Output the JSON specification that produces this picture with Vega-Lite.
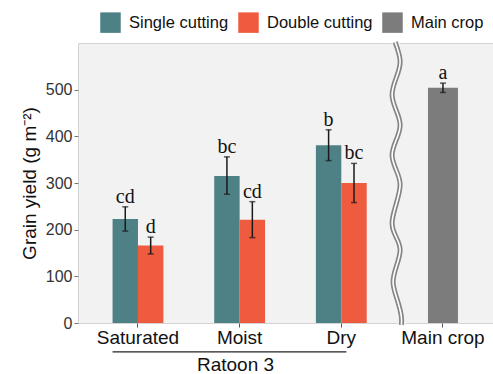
{
  "$schema": "https://vega.github.io/schema/vega-lite/v6.json",
  "width": 415,
  "height": 280,
  "autosize": "none",
  "padding": {"left": 78, "top": 43, "right": 0, "bottom": 51},
  "background": "white",
  "config": {
    "font": "Liberation Sans",
    "view": {"fill": "#f2f2f2", "stroke": "#d3d3d3", "strokeWidth": 1}
  },
  "datasets": {
    "bars": [
      {"cond": "Saturated", "type": "Single cutting", "mean": 223, "lo": 197, "hi": 249, "letter": "cd"},
      {"cond": "Saturated", "type": "Double cutting", "mean": 166, "lo": 148, "hi": 184, "letter": "d"},
      {"cond": "Moist", "type": "Single cutting", "mean": 315, "lo": 276, "hi": 356, "letter": "bc"},
      {"cond": "Moist", "type": "Double cutting", "mean": 221, "lo": 183, "hi": 260, "letter": "cd"},
      {"cond": "Dry", "type": "Single cutting", "mean": 381, "lo": 348, "hi": 414, "letter": "b"},
      {"cond": "Dry", "type": "Double cutting", "mean": 300, "lo": 258, "hi": 342, "letter": "bc"},
      {"cond": "Main crop", "type": "Main crop", "mean": 504, "lo": 494, "hi": 514, "letter": "a"}
    ],
    "wave": [
      {"i": 0, "wx": 3.528, "wy": 602},
      {"i": 1, "wx": 3.577, "wy": 561},
      {"i": 2, "wx": 3.538, "wy": 525},
      {"i": 3, "wx": 3.498, "wy": 489},
      {"i": 4, "wx": 3.538, "wy": 456},
      {"i": 5, "wx": 3.577, "wy": 424},
      {"i": 6, "wx": 3.538, "wy": 392},
      {"i": 7, "wx": 3.498, "wy": 360},
      {"i": 8, "wx": 3.538, "wy": 328},
      {"i": 9, "wx": 3.577, "wy": 296},
      {"i": 10, "wx": 3.538, "wy": 255},
      {"i": 11, "wx": 3.498, "wy": 214},
      {"i": 12, "wx": 3.538, "wy": 184},
      {"i": 13, "wx": 3.577, "wy": 156},
      {"i": 14, "wx": 3.538, "wy": 120},
      {"i": 15, "wx": 3.508, "wy": 86},
      {"i": 16, "wx": 3.547, "wy": 51},
      {"i": 17, "wx": 3.587, "wy": 17},
      {"i": 18, "wx": 3.590, "wy": -4}
    ],
    "group": [
      {"cond": "Saturated", "cond2": "Dry"}
    ]
  },
  "layer": [
    {
      "encoding": {
        "x": {
          "field": "cond",
          "type": "nominal",
          "sort": null,
          "scale": {
            "domain": ["Saturated", "Moist", "Dry", "Main crop"],
            "paddingInner": 0.5,
            "paddingOuter": 0.291,
            "align": 0.584
          },
          "axis": {
            "title": "Ratoon 3",
            "labelAngle": 0,
            "labelFontSize": 19,
            "labelColor": "#111111",
            "labelPadding": 1,
            "tickColor": "#555555",
            "tickSize": 4,
            "domain": false,
            "grid": false,
            "titleFontSize": 19,
            "titleFontWeight": "normal",
            "titleColor": "#111111",
            "titleX": 157,
            "titleY": 47,
            "titleAlign": "center",
            "titleBaseline": "alphabetic"
          }
        }
      },
      "layer": [
        {
          "data": {"name": "bars"},
          "transform": [{"filter": "datum.type !== 'Main crop'"}],
          "mark": {"type": "bar"},
          "encoding": {
            "xOffset": {"field": "type", "type": "nominal", "scale": {"domain": ["Single cutting", "Double cutting"], "paddingInner": 0, "paddingOuter": 0}},
            "y": {
              "field": "mean",
              "type": "quantitative",
              "scale": {"domain": [0, 600], "nice": false},
              "axis": {
                "title": "Grain yield (g m⁻²)",
                "values": [0, 100, 200, 300, 400, 500],
                "labelFontSize": 16,
                "labelColor": "#333333",
                "labelPadding": 2,
                "tickColor": "#777777",
                "tickSize": 4,
                "domain": false,
                "grid": false,
                "titleFontSize": 19,
                "titleFontWeight": "normal",
                "titleColor": "#111111",
                "titlePadding": 6
              }
            },
            "color": {
              "field": "type",
              "type": "nominal",
              "scale": {"domain": ["Single cutting", "Double cutting", "Main crop"], "range": ["#4E8185", "#EE5B3F", "#7C7C7C"]},
              "legend": {
                "title": null,
                "orient": "none",
                "legendX": 22,
                "legendY": -31,
                "direction": "horizontal",
                "symbolType": "square",
                "symbolSize": 420,
                "symbolStrokeWidth": 0,
                "labelFontSize": 16.5,
                "labelColor": "#111111",
                "labelOffset": 8,
                "columnPadding": 9,
                "labelFont": "Liberation Sans"
              }
            }
          }
        },
        {
          "data": {"name": "bars"},
          "transform": [{"filter": "datum.type === 'Main crop'"}],
          "mark": {"type": "bar", "width": {"band": 0.59}},
          "encoding": {
            "y": {"field": "mean", "type": "quantitative"},
            "color": {"field": "type", "type": "nominal"}
          }
        },
        {
          "data": {"name": "bars"},
          "transform": [{"filter": "datum.type !== 'Main crop'"}],
          "mark": {"type": "rule", "strokeWidth": 1.5, "color": "#1a1a1a"},
          "encoding": {
            "xOffset": {"field": "type", "type": "nominal"},
            "y": {"field": "lo", "type": "quantitative"},
            "y2": {"field": "hi"}
          }
        },
        {
          "data": {"name": "bars"},
          "transform": [{"filter": "datum.type === 'Main crop'"}],
          "mark": {"type": "rule", "strokeWidth": 1.5, "color": "#1a1a1a"},
          "encoding": {
            "y": {"field": "lo", "type": "quantitative"},
            "y2": {"field": "hi"}
          }
        },
        {
          "data": {"name": "bars"},
          "transform": [{"filter": "datum.type !== 'Main crop'"}, {"fold": ["lo", "hi"], "as": ["end", "val"]}],
          "mark": {"type": "tick", "size": 6, "thickness": 1.5, "color": "#1a1a1a"},
          "encoding": {
            "xOffset": {"field": "type", "type": "nominal"},
            "y": {"field": "val", "type": "quantitative"}
          }
        },
        {
          "data": {"name": "bars"},
          "transform": [{"filter": "datum.type === 'Main crop'"}, {"fold": ["lo", "hi"], "as": ["end", "val"]}],
          "mark": {"type": "tick", "size": 6, "thickness": 1.5, "color": "#1a1a1a"},
          "encoding": {
            "y": {"field": "val", "type": "quantitative"}
          }
        },
        {
          "data": {"name": "bars"},
          "transform": [{"filter": "datum.type !== 'Main crop'"}],
          "mark": {"type": "text", "font": "Liberation Serif", "fontSize": 20, "dy": -4, "baseline": "alphabetic", "color": "#111111"},
          "encoding": {
            "xOffset": {"field": "type", "type": "nominal"},
            "y": {"field": "hi", "type": "quantitative"},
            "text": {"field": "letter"}
          }
        },
        {
          "data": {"name": "bars"},
          "transform": [{"filter": "datum.type === 'Main crop'"}],
          "mark": {"type": "text", "font": "Liberation Serif", "fontSize": 20, "dy": -4, "baseline": "alphabetic", "color": "#111111"},
          "encoding": {
            "y": {"field": "hi", "type": "quantitative"},
            "text": {"field": "letter"}
          }
        },
        {
          "data": {"name": "group"},
          "mark": {"type": "rule", "strokeWidth": 1.2, "color": "#222222", "clip": false},
          "encoding": {
            "x": {"field": "cond", "type": "nominal", "bandPosition": 0},
            "x2": {"field": "cond2", "bandPosition": 0.6},
            "y": {"datum": -62, "type": "quantitative"}
          }
        }
      ]
    },
    {
      "data": {"name": "wave"},
      "encoding": {
        "x": {"field": "wx", "type": "quantitative", "scale": {"domain": [0.41, 4.49], "nice": false, "zero": false}, "axis": null},
        "y": {"field": "wy", "type": "quantitative"},
        "order": {"field": "i", "type": "quantitative"}
      },
      "layer": [
        {"mark": {"type": "line", "interpolate": "natural", "color": "#f2f2f2", "strokeWidth": 8, "clip": false}},
        {"mark": {"type": "line", "interpolate": "natural", "color": "#858585", "strokeWidth": 5, "clip": false}},
        {"mark": {"type": "line", "interpolate": "natural", "color": "#ffffff", "strokeWidth": 1.6, "clip": false}}
      ]
    }
  ],
  "resolve": {"scale": {"x": "independent"}}
}
